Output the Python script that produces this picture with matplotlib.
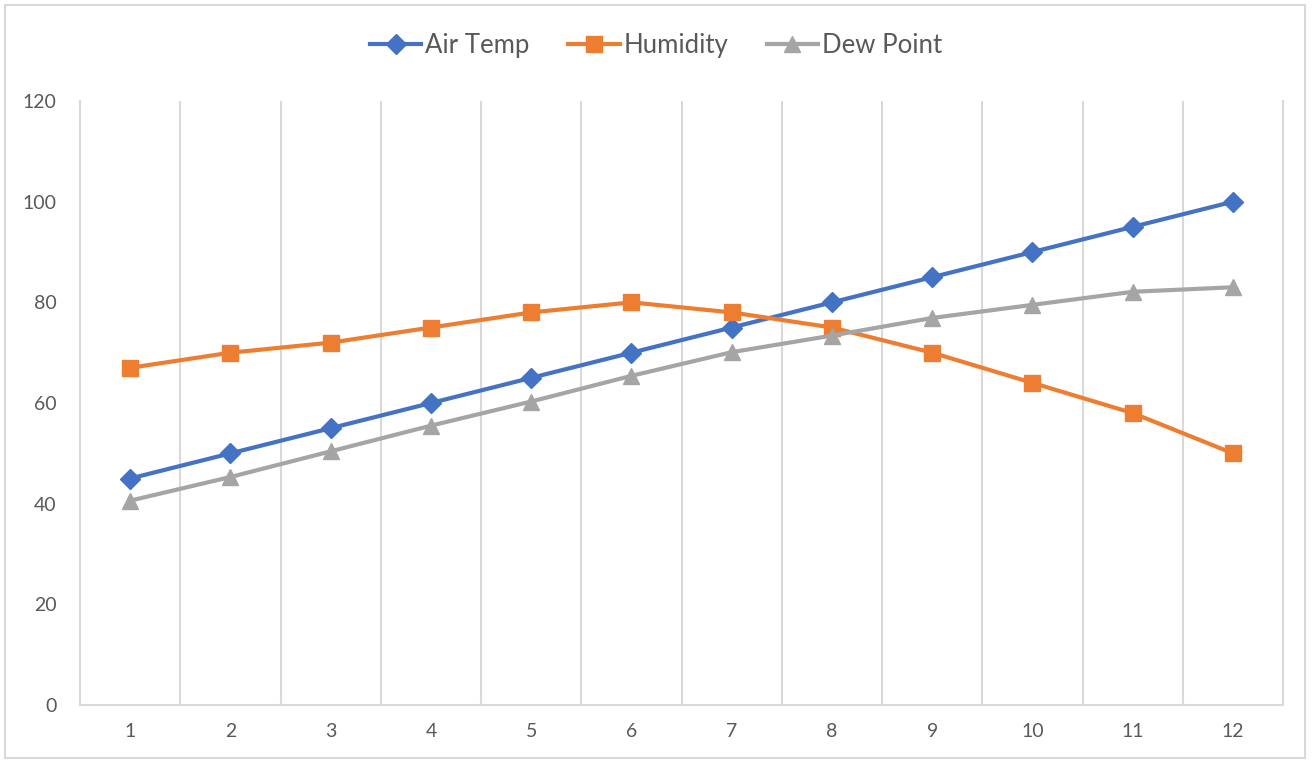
import matplotlib
matplotlib.use('Agg')
from matplotlib import pyplot as plt

plt.rcParams['font.family'] = ['Lato', 'DejaVu Sans']

months = [1, 2, 3, 4, 5, 6, 7, 8, 9, 10, 11, 12]
air_temp = [45, 50, 55, 60, 65, 70, 75, 80, 85, 90, 95, 100]
humidity = [67, 70, 72, 75, 78, 80, 78, 75, 70, 64, 58, 50]
dew_point = [40.6, 45.3, 50.4, 55.5, 60.3, 65.4, 70.1, 73.4, 76.9, 79.5, 82.1, 83.0]

grid_col = '#d9d9d9'
text_col = '#595959'

fig = plt.figure(figsize=(13.12, 7.63), dpi=100)
ax = fig.add_axes([0.061, 0.076, 0.917, 0.7916])

# category gridlines sit between the categories
for x in [m + 0.5 for m in months[:-1]]:
    ax.axvline(x, color=grid_col, lw=1.5, zorder=0)

ax.plot(months, air_temp, color='#4472C4', lw=3, marker='D', ms=10,
        label='Air Temp', zorder=3)
ax.plot(months, humidity, color='#ED7D31', lw=3, marker='s', ms=12,
        label='Humidity', zorder=3)
ax.plot(months, dew_point, color='#A5A5A5', lw=3, marker='^', ms=11,
        label='Dew Point', zorder=3)

ax.set_xlim(0.5, 12.5)
ax.set_ylim(0, 120)
ax.set_xticks(months)
ax.set_xticklabels([str(m) for m in months])
ax.set_yticks(range(0, 121, 20))
ax.tick_params(length=0, colors=text_col, labelsize=14)
ax.tick_params(axis='x', pad=13)
ax.tick_params(axis='y', pad=17)

ax.spines['top'].set_visible(False)
for s in ['left', 'right', 'bottom']:
    ax.spines[s].set_color(grid_col)
    ax.spines[s].set_linewidth(1.5)

fig.legend(loc='center', bbox_to_anchor=(0.5, 0.941), ncol=3, frameon=False,
           fontsize=18.5, handlelength=2.0, columnspacing=1.5, handletextpad=0.15,
           labelcolor=text_col)

# outer chart border
fig.patches.append(plt.Rectangle((0.004, 0.006), 0.991, 0.988, transform=fig.transFigure,
                                 fill=False, edgecolor=grid_col, lw=1.5))

fig.savefig('out.png', dpi=100)
